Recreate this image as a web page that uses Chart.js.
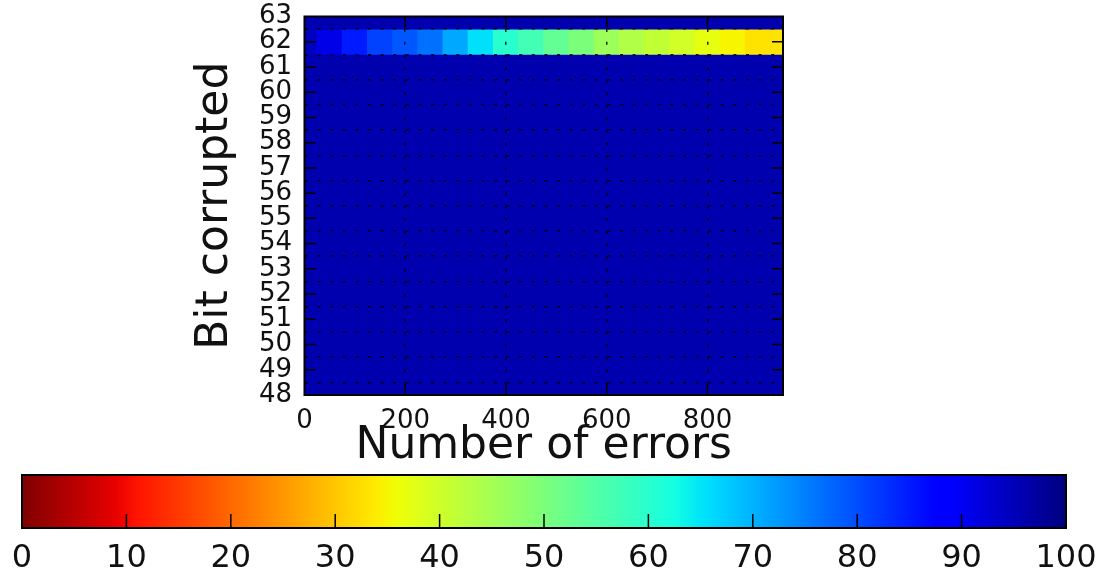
<!DOCTYPE html>
<html>
<head>
<meta charset="utf-8">
<script src="https://cdn.jsdelivr.net/npm/chart.js@4.4.0/dist/chart.umd.min.js"></script>
<style>
  html, body { margin: 0; padding: 0; background: #ffffff; }
  #wrap { position: relative; width: 1108px; height: 581px; overflow: hidden; }
  #main { position: absolute; left: 0; top: 0; }
  #cbar { position: absolute; left: 0; top: 470px; }
</style>
</head>
<body>
<div id="wrap">
  <canvas id="main" width="1108" height="581"></canvas>
  <canvas id="cbar" width="1108" height="111"></canvas>
</div>
<script>
// ---------------- data ----------------
const errorCounts = [0, 50, 100, 150, 200, 250, 300, 350, 400, 450, 500, 550, 600, 650, 700, 750, 800, 850, 900, 950];
const bitRows = [48, 49, 50, 51, 52, 53, 54, 55, 56, 57, 58, 59, 60, 61, 62, 63];
// percentage for bit 62 (the only row that differs)
const bit62Values = [94.5, 91, 85, 81, 79, 76.5, 71, 65.5, 60, 57, 53, 50, 46, 43.5, 41.5, 39.5, 37, 35, 33, 33];
// all other bits stay at this level
const otherBitsValue = 96;
const changingBit = 62;
const xTickValues = [0, 200, 400, 600, 800];
const yTickValues = [48, 49, 50, 51, 52, 53, 54, 55, 56, 57, 58, 59, 60, 61, 62, 63];
const colorbarTicks = [0, 10, 20, 30, 40, 50, 60, 70, 80, 90, 100];

// ---------------- colormap (reversed jet) ----------------
const JET = {
  r: [[0, 0], [0.35, 0], [0.66, 1], [0.89, 1], [1, 0.5]],
  g: [[0, 0], [0.125, 0], [0.375, 1], [0.64, 1], [0.91, 0], [1, 0]],
  b: [[0, 0.5], [0.11, 1], [0.34, 1], [0.65, 0], [1, 0]]
};
function interp(pts, t) {
  for (let i = 1; i < pts.length; i++) {
    if (t <= pts[i][0]) {
      const [x0, y0] = pts[i - 1], [x1, y1] = pts[i];
      return y0 + (y1 - y0) * (t - x0) / (x1 - x0);
    }
  }
  return pts[pts.length - 1][1];
}
function colorFor(v) {
  const t = Math.min(1, Math.max(0, 1 - v / 100));
  const r = Math.round(255 * interp(JET.r, t));
  const g = Math.round(255 * interp(JET.g, t));
  const b = Math.round(255 * interp(JET.b, t));
  return `rgb(${r},${g},${b})`;
}

// ---------------- cells ----------------
const halfW = (errorCounts[1] - errorCounts[0]) / 2;
const cells = [];
bitRows.forEach(bit => {
  errorCounts.forEach((n, i) => {
    const v = bit === changingBit ? bit62Values[i] : otherBitsValue;
    cells.push({ x: [n - halfW, n + halfW], y: bit, v: v });
  });
});

const FONT = "'DejaVu Sans', sans-serif";

const frameTicks = {
  id: 'frameTicks',
  afterDraw(chart, args, o) {
    const { ctx, chartArea: a, scales } = chart;
    ctx.save();
    ctx.strokeStyle = '#000';
    ctx.lineWidth = o.tickWidth;
    ctx.beginPath();
    (o.xTicks || []).forEach(v => {
      const px = scales.x.getPixelForValue(v);
      if (o.bottom) { ctx.moveTo(px, a.bottom); ctx.lineTo(px, a.bottom - o.len); }
      if (o.top) { ctx.moveTo(px, a.top); ctx.lineTo(px, a.top + o.len); }
    });
    (o.yTicks || []).forEach(v => {
      const py = scales.y.getPixelForValue(v);
      ctx.moveTo(a.left, py); ctx.lineTo(a.left + o.len, py);
      ctx.moveTo(a.right, py); ctx.lineTo(a.right - o.len, py);
    });
    ctx.stroke();
    ctx.lineWidth = o.frameWidth;
    ctx.strokeRect(a.left, a.top, a.right - a.left, a.bottom - a.top);
    ctx.restore();
  }
};

// ---------------- main heatmap ----------------
new Chart(document.getElementById('main'), {
  type: 'bar',
  data: {
    datasets: [{
      data: cells,
      backgroundColor: c => colorFor(c.raw ? c.raw.v : otherBitsValue),
      borderWidth: 0,
      inflateAmount: 0.5,
      barPercentage: 1,
      categoryPercentage: 1
    }]
  },
  options: {
    indexAxis: 'y',
    responsive: false,
    animation: false,
    events: [],
    layout: { padding: { left: 0, top: 16.5, right: 325, bottom: 106 } },
    plugins: {
      legend: { display: false },
      tooltip: { enabled: false },
      frameTicks: { xTicks: xTickValues.slice(1), yTicks: yTickValues.slice(1, -1), len: 11, tickWidth: 1.5, frameWidth: 2, top: true, bottom: true }
    },
    scales: {
      x: {
        type: 'linear',
        position: 'bottom',
        offset: false,
        min: 0, max: 950,
        afterBuildTicks: s => { s.ticks = xTickValues.map(v => ({ value: v })); },
        afterFit: s => { s.height = 80; },
        ticks: { autoSkip: false, maxRotation: 0, padding: 0, color: '#111', font: { family: FONT, size: 26 } },
        grid: { display: true, drawTicks: true, tickLength: 10.4, tickColor: 'rgba(0,0,0,0)', color: 'rgba(0,0,0,0.85)', lineWidth: 1.5, z: 1 },
        border: { display: false, dash: [3, 9.6] },
        title: { display: true, text: 'Number of errors', color: '#111', font: { family: FONT, size: 44 }, padding: { top: 0, bottom: 2.1 } }
      },
      y: {
        type: 'linear',
        position: 'left',
        offset: false,
        min: 48, max: 63,
        afterBuildTicks: s => { s.ticks = yTickValues.map(v => ({ value: v })); },
        afterFit: s => { s.width = 304.5; },
        ticks: { autoSkip: false, padding: 0, color: '#111', font: { family: FONT, size: 26 } },
        grid: { display: true, drawTicks: true, tickLength: 12.5, tickColor: 'rgba(0,0,0,0)', color: 'rgba(0,0,0,0.85)', lineWidth: 1.5, z: 1 },
        border: { display: false, dash: [3, 9.6] },
        title: { display: true, text: 'Bit corrupted', color: '#111', font: { family: FONT, size: 44 }, padding: { top: 188.8, bottom: 0 } }
      }
    }
  },
  plugins: [frameTicks]
});

// ---------------- colorbar ----------------
function gradientFill(c) {
  const chart = c.chart;
  const xs = chart.scales && chart.scales.x;
  if (!chart.chartArea || !xs) return colorFor(50);
  const x0 = xs.getPixelForValue(colorbarTicks[0]);
  const x1 = xs.getPixelForValue(colorbarTicks[colorbarTicks.length - 1]);
  const g = chart.ctx.createLinearGradient(x0, 0, x1, 0);
  for (let v = 0; v <= 100; v += 0.5) g.addColorStop(v / 100, colorFor(v));
  return g;
}

new Chart(document.getElementById('cbar'), {
  type: 'bar',
  data: {
    labels: ['scale'],
    datasets: [{
      data: [{ x: [colorbarTicks[0], colorbarTicks[colorbarTicks.length - 1]], y: 'scale' }],
      backgroundColor: gradientFill,
      borderWidth: 0,
      inflateAmount: 0,
      barPercentage: 1,
      categoryPercentage: 1
    }]
  },
  options: {
    indexAxis: 'y',
    responsive: false,
    animation: false,
    events: [],
    layout: { padding: { left: 22, top: 5, right: 42, bottom: 0 } },
    plugins: {
      legend: { display: false },
      tooltip: { enabled: false },
      frameTicks: { xTicks: colorbarTicks.slice(1, -1), yTicks: [], len: 14, tickWidth: 1.5, frameWidth: 2, top: false, bottom: true }
    },
    scales: {
      x: {
        type: 'linear',
        position: 'bottom',
        min: 0, max: 100,
        afterBuildTicks: s => { s.ticks = colorbarTicks.map(v => ({ value: v })); },
        afterFit: s => { s.height = 53; },
        ticks: { autoSkip: false, maxRotation: 0, padding: 0, color: '#111', font: { family: FONT, size: 32 } },
        grid: { display: false, drawTicks: true, tickLength: 11.8, tickColor: 'rgba(0,0,0,0)' },
        border: { display: false }
      },
      y: { type: 'category', display: false }
    }
  },
  plugins: [frameTicks]
});
</script>
</body>
</html>
